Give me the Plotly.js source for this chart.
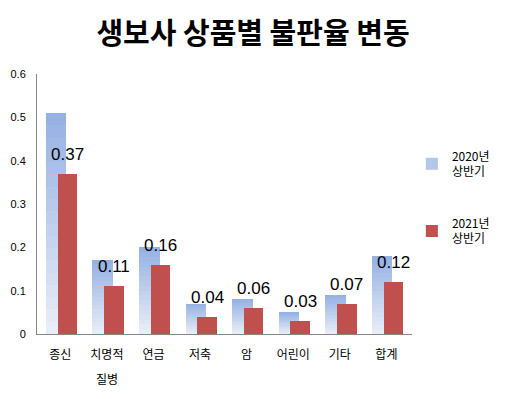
<!DOCTYPE html>
<html><head><meta charset="utf-8">
<script src="https://cdn.plot.ly/plotly-3.0.1.min.js"></script>
<style>
html,body{margin:0;padding:0;background:#fff;}
#wrap{position:absolute;left:0;top:1px;width:506px;height:398px;box-sizing:border-box;border:1px solid #878787;}
#chart{position:absolute;left:-1px;top:-2px;width:506px;height:399px;}
</style></head>
<body><div id="wrap"><div id="chart"></div></div>
<script>
const categories = ['종신', '치명적 질병', '연금', '저축', '암', '어린이', '기타', '합계'];
const tickLabels = ['종신', '치명적', '연금', '저축', '암', '어린이', '기타', '합계'];
const tickSecondLine = ['', '질병', '', '', '', '', '', ''];
const series2020Name = '2020년<br>상반기';
const series2021Name = '2021년<br>상반기';
const values2020 = [0.51, 0.17, 0.20, 0.07, 0.08, 0.05, 0.09, 0.18];
const values2021 = [0.37, 0.11, 0.16, 0.04, 0.06, 0.03, 0.07, 0.12];
const valueLabels2021 = ['0.37', '0.11', '0.16', '0.04', '0.06', '0.03', '0.07', '0.12'];

const FONT = '"Liberation Sans", Arial, "Noto Sans CJK KR", sans-serif';
const KFONT = '"Noto Sans CJK KR", sans-serif';
const gradTop = [150, 178, 227], gradBot = [232, 237, 247];
const N = 18;
const traces = [];
function mix(t){ return 'rgb(' + gradTop.map((c,i)=>Math.round(c + (gradBot[i]-c)*t)).join(',') + ')'; }
// vertical gradient for 2020 bars built from stacked overlay layers of the same bar
for (let k = 0; k < N; k++) {
  const f = (N - k) / N;
  traces.push({
    type: 'bar', x: categories, y: values2020.map(v => v * f),
    width: 0.44, offset: -0.31,
    marker: {color: mix(k / (N - 1)), line: {width: 0}},
    name: series2020Name, legendgroup: 'a',
    showlegend: k === 6, hoverinfo: 'skip'
  });
}
traces.push({
  type: 'bar', x: categories, y: values2021,
  width: 0.42, offset: -0.06,
  marker: {color: '#c0504d', line: {width: 0}},
  name: series2021Name, legendgroup: 'b', showlegend: true
});

const annotations = values2021.map((v, i) => ({
  x: i + 0.15, y: v, xref: 'x', yref: 'y',
  text: valueLabels2021[i], showarrow: false,
  yanchor: 'bottom', xanchor: 'center', yshift: 8,
  font: {family: FONT, size: 17, color: '#000'}
}));
tickSecondLine.forEach((t, i) => {
  if (!t) return;
  annotations.push({
    x: i, y: 0, xref: 'x', yref: 'y', text: t, showarrow: false,
    yanchor: 'middle', xanchor: 'center', yshift: -44,
    font: {family: KFONT, size: 12, color: '#000'}
  });
});

const layout = {
  width: 506, height: 399,
  margin: {l: 37, r: 86, t: 74, b: 65},
  paper_bgcolor: '#fff', plot_bgcolor: '#fff',
  font: {family: FONT, color: '#000'},
  barmode: 'overlay',
  bargap: 0,
  title: {text: '<b>생보사 상품별 불판율 변동</b>', x: 0.5, xanchor: 'center', y: 0.915, yanchor: 'middle',
          font: {family: KFONT, size: 29, color: '#000'}},
  xaxis: {type: 'category', showgrid: false, zeroline: false, showline: true, linecolor: '#878787', linewidth: 1,
          ticks: '', ticklabelstandoff: 10, tickvals: categories, ticktext: tickLabels,
          tickfont: {family: KFONT, size: 12, color: '#000'},
          fixedrange: true},
  yaxis: {range: [0, 0.6], dtick: 0.1, showgrid: false, zeroline: false, showline: true, linecolor: '#878787', linewidth: 1,
          ticks: '', ticklabelstandoff: 8, tickfont: {family: FONT, size: 11, color: '#000'}, fixedrange: true},
  legend: {xref: 'container', yref: 'container', x: 0.814, xanchor: 'left', y: 0.645, yanchor: 'top',
           traceorder: 'grouped', tracegroupgap: 33, itemwidth: 30,
           font: {family: KFONT, size: 12, color: '#000'}, bgcolor: 'rgba(0,0,0,0)'},
  annotations: annotations,
  showlegend: true
};
Plotly.newPlot('chart', traces, layout, {displayModeBar: false, staticPlot: true});
</script></body></html>
